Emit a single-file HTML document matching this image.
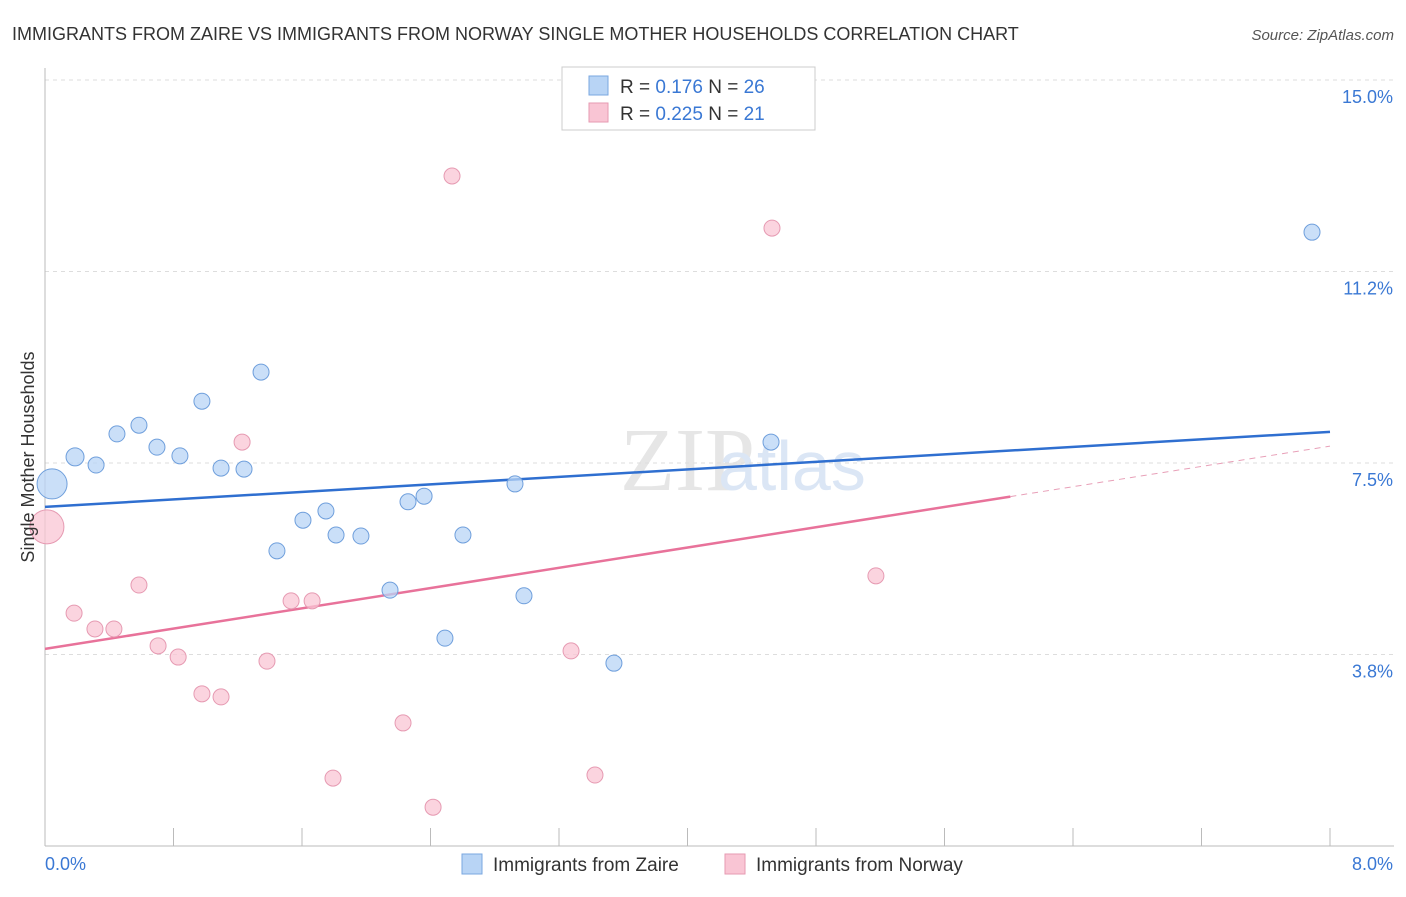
<!DOCTYPE html>
<html><head><meta charset="utf-8"><style>
body{margin:0;background:#fff;font-family:"Liberation Sans",sans-serif}
</style></head><body>
<svg width="1406" height="892" xmlns="http://www.w3.org/2000/svg" font-family="Liberation Sans, sans-serif">
<text x="12" y="40" font-size="18" fill="#333">IMMIGRANTS FROM ZAIRE VS IMMIGRANTS FROM NORWAY SINGLE MOTHER HOUSEHOLDS CORRELATION CHART</text>
<text x="1394" y="40" font-size="15" fill="#555" text-anchor="end" font-style="italic">Source: ZipAtlas.com</text>
<text x="620" y="490" font-size="90" fill="#e6e6e6" font-family="Liberation Serif, serif">ZIP</text>
<text x="718" y="490" font-size="70" fill="#dbe6f5">atlas</text>
<g id="grid"></g><g id="axes"></g><g id="lines"></g><g id="pts"></g>
<text transform="translate(34,457) rotate(-90)" font-size="18" fill="#333" text-anchor="middle">Single Mother Households</text>
<g>
<rect x="562" y="67" width="253" height="63" fill="#fff" stroke="#ccc"/>
<rect x="589" y="76" width="19" height="19" fill="#b8d4f5" stroke="#7aa7e0"/>
<rect x="589" y="103" width="19" height="19" fill="#f9c5d4" stroke="#e69ab2"/>
<text x="620" y="93" font-size="19" fill="#333">R = <tspan fill="#3a78d4">0.176</tspan>   N = <tspan fill="#3a78d4">26</tspan></text>
<text x="620" y="120" font-size="19" fill="#333">R = <tspan fill="#3a78d4">0.225</tspan>   N = <tspan fill="#3a78d4"> 21</tspan></text>
</g>
<g>
<rect x="462" y="854" width="20" height="20" fill="#b8d4f5" stroke="#7aa7e0"/>
<text x="493" y="871" font-size="19" fill="#333">Immigrants from Zaire</text>
<rect x="725" y="854" width="20" height="20" fill="#f9c5d4" stroke="#e69ab2"/>
<text x="756" y="871" font-size="19" fill="#333">Immigrants from Norway</text>
</g>
</svg>
<script>
const yTicks=[3.75,7.5,11.25,15];
const yTickLabels=["3.8%","7.5%","11.2%","15.0%"];
const xTickLabels=["0.0%","8.0%"];
const zaireX=[0.044,0.187,0.318,0.448,0.585,0.697,0.840,0.977,1.096,1.239,1.345,1.444,1.606,1.749,1.812,1.967,2.148,2.260,2.360,2.490,2.602,2.926,2.982,3.542,4.520,7.888];
const zaireY=[7.09,7.62,7.46,8.07,8.24,7.81,7.64,8.71,7.40,7.38,9.28,5.78,6.38,6.56,6.09,6.07,5.01,6.74,6.85,4.07,6.09,7.09,4.90,3.58,7.91,12.02];
const zaireR=[15,9,8,8,8,8,8,8,8,8,8,8,8,8,8,8,8,8,8,8,8,8,8,8,8,8];
const norwayX=[0.012,0.181,0.311,0.429,0.585,0.704,0.829,0.977,1.096,1.227,1.382,1.532,1.663,1.793,2.229,2.416,2.534,3.275,3.424,4.526,5.173];
const norwayY=[6.25,4.56,4.25,4.25,5.11,3.92,3.70,2.98,2.92,7.91,3.62,4.80,4.80,1.33,2.41,0.76,13.12,3.82,1.39,12.10,5.29];
const norwayR=[17,8,8,8,8,8,8,8,8,8,8,8,8,8,8,8,8,8,8,8,8];
const zaireTrend=[6.64,8.11];
const norwayTrend=[3.86,7.83];
const norwaySolidEnd=6.01;
const NS="http://www.w3.org/2000/svg";
const X=v=>45+v/8*1285, Y=v=>846-v/15*766;
function mk(p,t,a){const e=document.createElementNS(NS,t);for(const k in a)e.setAttribute(k,a[k]);document.getElementById(p).appendChild(e);return e;}
yTicks.forEach((t,i)=>{
 const g=mk('grid','line',{x1:45,x2:1394,y1:Y(t),y2:Y(t),stroke:'#ddd','stroke-dasharray':'4,4'});
 
 
 const l=mk('grid','text',{x:1393,y:Y(t)+23,'font-size':18,fill:'#3a78d4','text-anchor':'end'});l.textContent=yTickLabels[i];
 
 
});
const tg=mk('grid','line',{x1:45,x2:1394,y1:Y(15),y2:Y(15),stroke:'#ddd','stroke-dasharray':'4,4'});
mk('axes','line',{x1:45,x2:45,y1:68,y2:846,stroke:'#bbb'});
mk('axes','line',{x1:45,x2:1394,y1:846,y2:846,stroke:'#bbb'});
for(let i=0;i<=10;i++){const x=X(i*0.8);const t=mk('axes','line',{x1:x,x2:x,y1:828,y2:846,stroke:'#bbb'});
 
 }
const xl0=mk('axes','text',{x:45,y:870,'font-size':18,fill:'#3a78d4'});xl0.textContent=xTickLabels[0];


const xl1=mk('axes','text',{x:1393,y:870,'font-size':18,fill:'#3a78d4','text-anchor':'end'});xl1.textContent=xTickLabels[1];


const zl=mk('lines','line',{x1:X(0),y1:Y(zaireTrend[0]),x2:X(8),y2:Y(zaireTrend[1]),stroke:'#2f6fd0','stroke-width':2.5});


const ny=v=>norwayTrend[0]+(norwayTrend[1]-norwayTrend[0])*v/8;
const nl=mk('lines','line',{x1:X(0),y1:Y(norwayTrend[0]),x2:X(norwaySolidEnd),y2:Y(ny(norwaySolidEnd)),stroke:'#e8729a','stroke-width':2.5});


const nd=mk('lines','line',{x1:X(norwaySolidEnd),y1:Y(ny(norwaySolidEnd)),x2:X(8),y2:Y(norwayTrend[1]),stroke:'#e8a0b8','stroke-width':1,'stroke-dasharray':'6,5'});


zaireX.forEach((v,i)=>{const c=mk('pts','circle',{cx:X(v),cy:Y(zaireY[i]),r:zaireR[i],fill:'#b8d4f5','fill-opacity':0.75,stroke:'#6f9fdc'});
 
 });
norwayX.forEach((v,i)=>{const c=mk('pts','circle',{cx:X(v),cy:Y(norwayY[i]),r:norwayR[i],fill:'#f9c5d4','fill-opacity':0.75,stroke:'#e69ab2'});
 
 });
</script>
</body></html>
